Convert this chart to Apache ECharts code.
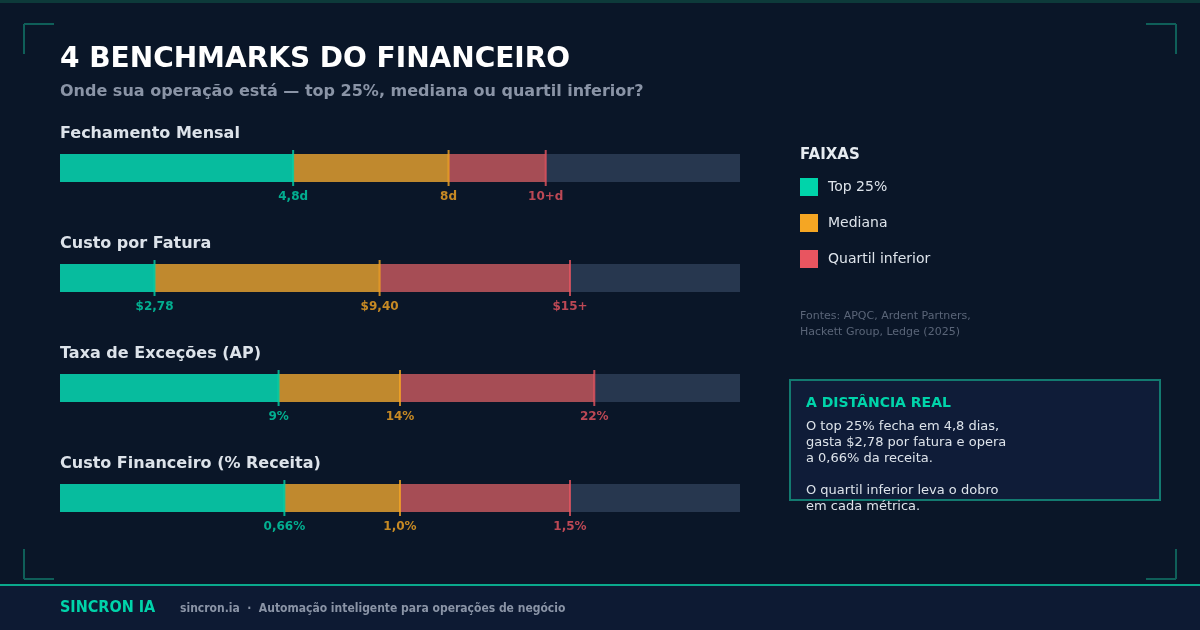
<!DOCTYPE html>
<html><head><meta charset="utf-8">
<script src="https://cdn.jsdelivr.net/npm/echarts@6/dist/echarts.min.js"></script>
<style>html,body{margin:0;background:#0a1628}#c{width:1200px;height:630px}</style>
</head><body><div id="c"></div>
<script>
const metrics = ['Fechamento Mensal', 'Custo por Fatura', 'Taxa de Exceções (AP)', 'Custo Financeiro (% Receita)']
const top25 = [4.8, 2.78, 9, 0.66]
const median = [8, 9.4, 14, 1.0]
const bottom = [10, 15, 22, 1.5]
const scaleMax = [14, 20, 28, 2]
const labels = [
  ['4,8d', '8d', '10+d'],
  ['$2,78', '$9,40', '$15+'],
  ['9%', '14%', '22%'],
  ['0,66%', '1,0%', '1,5%']
]
const barColors = ['#07bc9e', '#c0892e', '#a64d55', '#27374f']
const markColors = ['#00d4aa', '#f5a623', '#e85560']
const font = 'DejaVu Sans'

const tops = [154, 264, 374, 484]
const grid = [], xAxis = [], yAxis = [], series = []
metrics.forEach((m, i) => {
  grid.push({left: 60, top: tops[i], width: 680, height: 28})
  xAxis.push({gridIndex: i, type: 'value', min: 0, max: scaleMax[i], show: false})
  yAxis.push({gridIndex: i, type: 'category', data: [m], show: false})
  const segs = [top25[i], median[i] - top25[i], bottom[i] - median[i], scaleMax[i] - bottom[i]]
  segs.forEach((v, k) => series.push({
    type: 'bar', xAxisIndex: i, yAxisIndex: i, stack: 's' + i, barWidth: 28,
    data: [v], itemStyle: {color: barColors[k]}, silent: true
  }))
  series.push({
    type: 'scatter', xAxisIndex: i, yAxisIndex: i, symbol: 'rect', symbolSize: [2, 36],
    data: [top25[i], median[i], bottom[i]].map((v, k) => ({
      value: [v, 0], itemStyle: {color: markColors[k]},
      label: {show: true, position: 'bottom', distance: 5, formatter: labels[i][k],
        color: markColors[k], fontFamily: font, fontWeight: 'bold', fontSize: 12}
    }))
  })
})

const t = (x, y, text, size, color, weight, extra) => ({type: 'text', x, y,
  style: Object.assign({text, fontSize: size, fill: color, fontFamily: font, fontWeight: weight || 'normal', textVerticalAlign: 'middle'}, extra || {})})
const line = (x1, y1, x2, y2, c, w) => ({type: 'line', shape: {x1, y1, x2, y2}, style: {stroke: c, lineWidth: w || 2}})
const bc = '#0f5f59'
const graphic = [
  {type: 'rect', shape: {x: 0, y: 0, width: 1200, height: 3}, style: {fill: '#0d3a3a'}},
  {type: 'rect', shape: {x: 0, y: 585, width: 1200, height: 45}, style: {fill: '#0d1a33'}},
  line(0, 585, 1200, 585, '#0aa88c', 2),
  line(24, 24, 54, 24, bc), line(24, 24, 24, 54, bc),
  line(1146, 24, 1176, 24, bc), line(1176, 24, 1176, 54, bc),
  line(24, 549, 24, 579, bc), line(24, 579, 54, 579, bc),
  line(1176, 549, 1176, 579, bc), line(1146, 579, 1176, 579, bc),
  t(60, 60, '4 BENCHMARKS DO FINANCEIRO', 28, '#ffffff', 'bold'),
  t(60, 92, 'Onde sua operação está — top 25%, mediana ou quartil inferior?', 16, '#8a94a6', 'bold'),
  ...metrics.map((m, i) => t(60, tops[i] - 20, m, 16, '#dde3ea', 'bold')),
  t(800, 155, 'FAIXAS', 15, '#e6ebf0', 'bold'),
  ...['Top 25%', 'Mediana', 'Quartil inferior'].flatMap((n, k) => [
    {type: 'rect', shape: {x: 800, y: 178 + k * 36, width: 18, height: 18}, style: {fill: ['#00d4aa', '#f5a623', '#e85560'][k]}},
    t(828, 187 + k * 36, n, 14, '#dde3ea')
  ]),
  t(800, 316, 'Fontes: APQC, Ardent Partners,', 11, '#5a6578'),
  t(800, 332, 'Hackett Group, Ledge (2025)', 11, '#5a6578'),
  {type: 'rect', shape: {x: 790, y: 380, width: 370, height: 120}, style: {fill: '#0f1c38', stroke: '#137a70', lineWidth: 2}},
  t(806, 403, 'A DISTÂNCIA REAL', 14, '#00d4aa', 'bold'),
  t(806, 427, 'O top 25% fecha em 4,8 dias,', 13, '#dde3ea'),
  t(806, 443, 'gasta $2,78 por fatura e opera', 13, '#dde3ea'),
  t(806, 459, 'a 0,66% da receita.', 13, '#dde3ea'),
  t(806, 491, 'O quartil inferior leva o dobro', 13, '#dde3ea'),
  t(806, 507, 'em cada métrica.', 13, '#dde3ea'),
  t(60, 608, 'SINCRON IA', 16, '#00d4aa', 'bold', {fontFamily: 'DejaVu Sans Condensed'}),
  t(180, 609, 'sincron.ia  ·  Automação inteligente para operações de negócio', 12, '#8a94a6', 'bold', {fontFamily: 'DejaVu Sans Condensed'})
]

const chart = echarts.init(document.getElementById('c'))
chart.setOption({backgroundColor: '#0a1628', animation: false, grid, xAxis, yAxis, series, graphic})
</script></body></html>
